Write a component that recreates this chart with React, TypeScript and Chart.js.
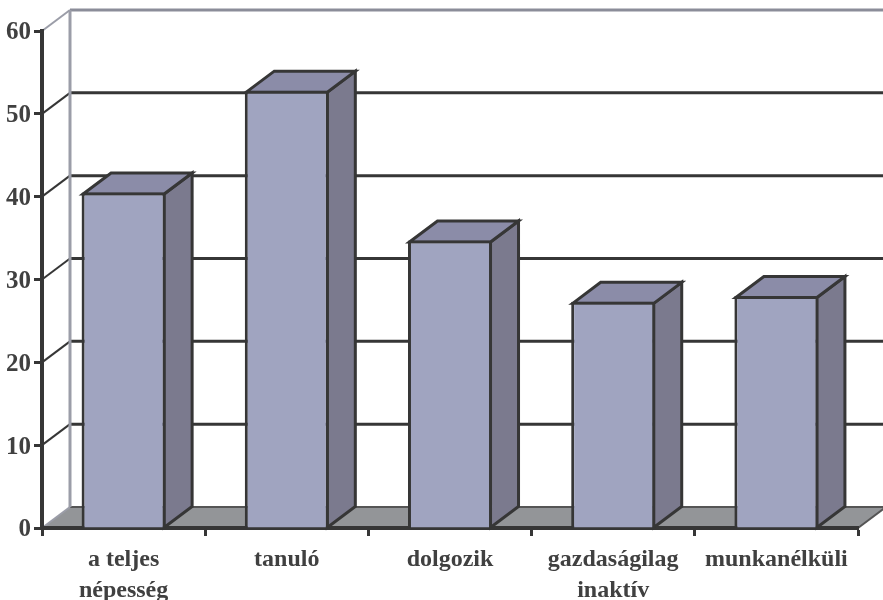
import React, { useEffect, useRef } from "react";
import { Chart, registerables } from "chart.js";

Chart.register(...registerables);

const categories: (string | string[])[] = [
  ["a teljes", "népesség"],
  "tanuló",
  "dolgozik",
  ["gazdaságilag", "inaktív"],
  "munkanélküli",
];
const values = [40.5, 52.8, 34.7, 27.3, 28.0];
const yMax = 60;
const yStep = 10;

const DX = 28;
const DY = 21;
const DARK = "#363636";
const WALL = "#9b9da8";
const TEXT = "#404040";
const FONT = "'Liberation Serif', serif";

const scene3d = {
  id: "scene3d",
  beforeDraw(chart: any) {
    const { ctx, chartArea: a, scales } = chart;
    const y = scales.y;
    ctx.save();
    ctx.lineCap = "butt";
    // floor
    ctx.beginPath();
    ctx.moveTo(a.left, a.bottom);
    ctx.lineTo(a.left + DX, a.bottom - DY);
    ctx.lineTo(a.right + DX, a.bottom - DY);
    ctx.lineTo(a.right, a.bottom);
    ctx.closePath();
    ctx.fillStyle = "#939598";
    ctx.fill();
    // back-wall gridlines and their diagonals
    for (const t of y.ticks) {
      const py = y.getPixelForValue(t.value);
      const isTop = t.value === yMax;
      const isZero = t.value === 0;
      ctx.strokeStyle = isTop ? "#8b8d99" : isZero ? "#555" : DARK;
      ctx.lineWidth = isTop ? 3 : isZero ? 2 : 3;
      ctx.beginPath();
      ctx.moveTo(a.left + DX, py - DY);
      ctx.lineTo(a.right + DX, py - DY);
      ctx.stroke();
      ctx.strokeStyle = isTop || isZero ? WALL : DARK;
      ctx.lineWidth = 2;
      ctx.beginPath();
      ctx.moveTo(a.left, py);
      ctx.lineTo(a.left + DX, py - DY);
      ctx.stroke();
    }
    // left wall vertical
    ctx.strokeStyle = WALL;
    ctx.lineWidth = 3;
    ctx.beginPath();
    ctx.moveTo(a.left + DX, a.top - DY);
    ctx.lineTo(a.left + DX, a.bottom - DY);
    ctx.stroke();
    // right floor edge
    ctx.strokeStyle = "#555";
    ctx.lineWidth = 2;
    ctx.beginPath();
    ctx.moveTo(a.right, a.bottom);
    ctx.lineTo(a.right + DX, a.bottom - DY);
    ctx.stroke();
    ctx.restore();
  },
  beforeDatasetsDraw(chart: any) {
    const { ctx } = chart;
    const meta = chart.getDatasetMeta(0);
    ctx.save();
    ctx.lineJoin = "miter";
    ctx.lineWidth = 3;
    ctx.strokeStyle = DARK;
    for (const bar of meta.data) {
      const { x, y, base, width } = bar.getProps(["x", "y", "base", "width"], true);
      const r = x + width / 2 - 1.5;
      const l = x - width / 2 + 1.5;
      const t = y + 1.5;
      const b = base;
      // side
      ctx.beginPath();
      ctx.moveTo(r, t);
      ctx.lineTo(r + DX, t - DY);
      ctx.lineTo(r + DX, b - DY);
      ctx.lineTo(r, b);
      ctx.closePath();
      ctx.fillStyle = "#7b7a8e";
      ctx.fill();
      ctx.stroke();
      // top
      ctx.beginPath();
      ctx.moveTo(l, t);
      ctx.lineTo(l + DX, t - DY);
      ctx.lineTo(r + DX, t - DY);
      ctx.lineTo(r, t);
      ctx.closePath();
      ctx.fillStyle = "#8b8ca8";
      ctx.fill();
      ctx.stroke();
    }
    ctx.restore();
  },
};

export default function App() {
  const ref = useRef<HTMLCanvasElement>(null);
  useEffect(() => {
    const chart = new Chart(ref.current!, {
      type: "bar",
      data: {
        labels: categories as any,
        datasets: [
          {
            data: values,
            backgroundColor: "#a0a4c0",
            borderColor: DARK,
            borderWidth: 3,
            categoryPercentage: 1,
            barPercentage: 0.515,
          },
        ],
      },
      options: {
        animation: false,
        responsive: false,
        layout: { padding: { left: 0, right: 25, top: 31, bottom: 0 } },
        plugins: { legend: { display: false }, tooltip: { enabled: false } },
        scales: {
          x: {
            grid: {
              offset: true,
              drawOnChartArea: false,
              tickLength: 8,
              tickWidth: 3,
              tickColor: DARK,
            } as any,
            border: { color: DARK, width: 4 },
            ticks: {
              color: TEXT,
              font: { family: FONT, size: 24, weight: "bold", lineHeight: 1.29 },
              maxRotation: 0,
              autoSkip: false,
              padding: 8,
            },
            afterFit(s: any) {
              s.height = 72;
            },
          },
          y: {
            min: 0,
            max: yMax,
            grid: {
              drawOnChartArea: false,
              tickLength: 8,
              tickWidth: 3,
              tickColor: DARK,
            },
            border: { color: DARK, width: 4 },
            ticks: {
              stepSize: yStep,
              color: TEXT,
              font: { family: FONT, size: 25, weight: "bold" },
              padding: 3,
              labelOffset: 2,
            },
            afterFit(s: any) {
              s.width = 42;
            },
          },
        },
      },
      plugins: [scene3d],
    });
    return () => chart.destroy();
  }, []);
  return (
    <div style={{ position: "absolute", left: 0, top: 0, width: 883, height: 600, background: "#fff" }}>
      <canvas ref={ref} width={883} height={600} style={{ display: "block" }} />
    </div>
  );
}
